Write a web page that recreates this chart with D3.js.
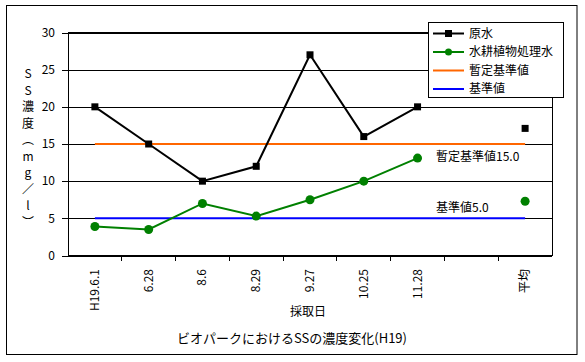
<!DOCTYPE html>
<html>
<head>
<meta charset="utf-8">
<script src="https://cdn.jsdelivr.net/npm/d3@7"></script>
<style>
    body { margin: 0; background: #fff; }
    svg text { font-family: "MS PGothic", "Noto Sans CJK JP", sans-serif; font-size: 12px; fill: #000; }
</style>
</head>
<body>
<div id="chart"></div>
<script>
// sampling dates (one empty slot before the average)
const dates = ['H19.6.1', '6.28', '8.6', '8.29', '9.27', '10.25', '11.28', '', '平均'];
const rawWater = [20, 15, 10, 12, 27, 16, 20, null, 17.1];
const treatedWater = [3.9, 3.5, 7.0, 5.3, 7.5, 10.0, 13.1, null, 7.3];
const provisionalStd = [15, 15, 15, 15, 15, 15, 15, 15, 15];
const standard = [5, 5, 5, 5, 5, 5, 5, 5, 5];
const yTicks = [0, 5, 10, 15, 20, 25, 30];
const yTitle = ['S', 'S', '濃', '度', '︵', 'm', 'g', '／', 'l', '︶'];

const width = 585;
const height = 362;
const plot = { left: 68, right: 552, top: 32.5, bottom: 255.5 };

const svg = d3.select('#chart').append('svg').attr('width', width).attr('height', height);

svg.append('rect').attr('x', 6.5).attr('y', 5.5).attr('width', 570.5).attr('height', 349)
    .attr('fill', '#fff').attr('stroke', '#000').attr('stroke-width', 1);

const xScale = d3.scaleBand().domain(d3.range(dates.length)).range([plot.left, plot.right]).padding(0);
const yScale = d3.scaleLinear().domain([0, 30]).range([plot.bottom, plot.top]);
const cx = (i) => xScale(i) + xScale.bandwidth() / 2;

// gridlines + left ticks
const grid = svg.append('g').attr('transform', `translate(${plot.left}, 0)`);
grid.call(d3.axisLeft(yScale).tickValues(yTicks).tickSize(6).tickFormat(''))
    .call(g => g.select('.domain').remove());
grid.selectAll('.tick').append('line').attr('x2', plot.right - plot.left).attr('stroke', '#000');
grid.selectAll('line').attr('shape-rendering', 'crispEdges');

svg.append('g').selectAll('text').data(yTicks).join('text')
    .attr('x', 55).attr('y', d => yScale(d)).attr('text-anchor', 'end').attr('dy', '0.35em').text(d => d);

// plot border
svg.append('rect').attr('x', plot.left).attr('y', plot.top)
    .attr('width', plot.right - plot.left).attr('height', plot.bottom - plot.top)
    .attr('fill', 'none').attr('stroke', '#000').attr('shape-rendering', 'crispEdges');

// x ticks on band boundaries
svg.append('g').selectAll('line').data(d3.range(1, dates.length)).join('line')
    .attr('x1', d => xScale(d)).attr('x2', d => xScale(d))
    .attr('y1', plot.bottom).attr('y2', plot.bottom + 5)
    .attr('stroke', '#000').attr('shape-rendering', 'crispEdges');

svg.append('g').selectAll('text').data(dates).join('text')
    .attr('transform', (d, i) => `translate(${cx(i) + 4}, 269) rotate(-90)`)
    .attr('text-anchor', 'end').text(d => d);

const line = d3.line().defined(d => d != null).x((d, i) => cx(i)).y(d => yScale(d));

svg.append('path').datum(provisionalStd).attr('d', line).attr('fill', 'none').attr('stroke', '#ff6600').attr('stroke-width', 2);
svg.append('path').datum(standard).attr('d', line).attr('fill', 'none').attr('stroke', '#0000ff').attr('stroke-width', 2);

svg.append('path').datum(rawWater).attr('d', line).attr('fill', 'none').attr('stroke', '#000').attr('stroke-width', 2);
svg.append('g').selectAll('rect').data(rawWater.map((v, i) => ({ v, i })).filter(d => d.v != null)).join('rect')
    .attr('x', d => cx(d.i) - 3.5).attr('y', d => yScale(d.v) - 3.5).attr('width', 7).attr('height', 7).attr('fill', '#000');

svg.append('path').datum(treatedWater).attr('d', line).attr('fill', 'none').attr('stroke', '#008000').attr('stroke-width', 2);
svg.append('g').selectAll('circle').data(treatedWater.map((v, i) => ({ v, i })).filter(d => d.v != null)).join('circle')
    .attr('cx', d => cx(d.i)).attr('cy', d => yScale(d.v)).attr('r', 4.5).attr('fill', '#008000');

// annotations
svg.append('text').attr('x', 436).attr('y', 157).attr('dy', '0.35em').text('暫定基準値15.0');
svg.append('text').attr('x', 436).attr('y', 208).attr('dy', '0.35em').text('基準値5.0');

// y title, stacked characters
svg.append('g').selectAll('text').data(yTitle).join('text')
    .attr('x', 28).attr('y', (d, i) => 74 + i * 16.5).attr('text-anchor', 'middle').attr('dy', '0.35em').text(d => d);

svg.append('text').attr('x', 308).attr('y', 312).attr('text-anchor', 'middle').attr('dy', '0.35em').text('採取日');
svg.append('text').attr('x', 292).attr('y', 338).attr('text-anchor', 'middle').attr('dy', '0.35em')
    .style('font-size', '13px').text('ビオパークにおけるSSの濃度変化(H19)');

// legend
const legendItems = [
    { name: '原水', color: '#000', marker: 'square' },
    { name: '水耕植物処理水', color: '#008000', marker: 'circle' },
    { name: '暫定基準値', color: '#ff6600', marker: null },
    { name: '基準値', color: '#0000ff', marker: null },
];
svg.append('rect').attr('x', 428.5).attr('y', 22.5).attr('width', 135).attr('height', 75)
    .attr('fill', '#fff').attr('stroke', '#000');
const lg = svg.append('g').selectAll('g').data(legendItems).join('g')
    .attr('transform', (d, i) => `translate(0, ${33.5 + i * 18.5})`);
lg.append('line').attr('x1', 433).attr('x2', 464).attr('stroke', d => d.color).attr('stroke-width', 2);
lg.filter(d => d.marker === 'square').append('rect').attr('x', 445).attr('y', -3.5).attr('width', 7).attr('height', 7).attr('fill', '#000');
lg.filter(d => d.marker === 'circle').append('circle').attr('cx', 448.5).attr('r', 3.5).attr('fill', '#008000');
lg.append('text').attr('x', 469).attr('dy', '0.35em').text(d => d.name);
</script>
</body>
</html>
